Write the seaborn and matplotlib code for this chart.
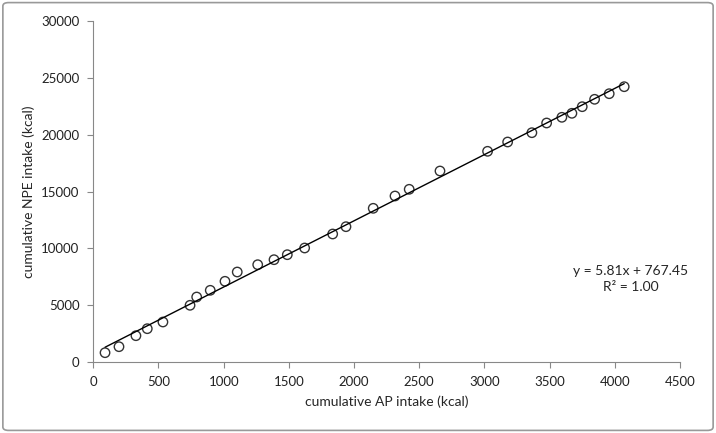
import matplotlib
matplotlib.use('Agg')
import matplotlib.pyplot as plt
from matplotlib.patches import FancyBboxPatch
import seaborn as sns
import pandas as pd

# values
ap_intake = [90, 197, 327, 414, 534, 742, 793, 897, 1010, 1104,
             1261, 1386, 1488, 1621, 1836, 1938, 2147, 2314, 2423, 2659,
             3024, 3178, 3364, 3477, 3594, 3671, 3750, 3845, 3957, 4072]
npe_intake = [794, 1323, 2293, 2910, 3501, 4974, 5705, 6296, 7090, 7910,
              8554, 8995, 9436, 10026, 11261, 11905, 13527, 14612, 15203, 16817,
              18554, 19374, 20194, 21050, 21552, 21905, 22487, 23140, 23633, 24250]
fit_label = 'y = 5.81x + 767.45\nR² = 1.00'

df = pd.DataFrame({'ap': ap_intake, 'npe': npe_intake})

sns.set_style('white')
plt.rcParams['font.family'] = ['Lato', 'DejaVu Sans']

fig = plt.figure(figsize=(7.16, 4.33), dpi=100)
ax = fig.add_axes([93.3 / 716, 1 - 361.7 / 433, (680 - 93.3) / 716, (361.7 - 21.5) / 433])

sns.regplot(x='ap', y='npe', data=df, ci=None, ax=ax, truncate=True,
            marker='o',
            scatter_kws={'s': 46, 'facecolors': 'none', 'edgecolors': 'black', 'linewidths': 1},
            line_kws={'color': 'black', 'lw': 1})

ax.set_xlim(0, 4500)
ax.set_ylim(0, 30000)
ax.set_xticks(range(0, 4501, 500))
ax.set_yticks(range(0, 30001, 5000))
ax.set_xlabel('cumulative AP intake (kcal)', fontsize=10, labelpad=6)
ax.set_ylabel('cumulative NPE intake (kcal)', fontsize=10, labelpad=4)
ax.tick_params(axis='both', labelsize=9.5, length=4, width=0.8, color='#888888',
               labelcolor='#222222', direction='out', bottom=True, left=True, pad=6)
for side in ['top', 'right']:
    ax.spines[side].set_visible(False)
for side in ['left', 'bottom']:
    ax.spines[side].set_color('#888888')
    ax.spines[side].set_linewidth(0.8)

ax.text(4123, 7300, fit_label, ha='center', va='center', fontsize=10, linespacing=1.4)

border = FancyBboxPatch((0.004, 0.006), 0.992, 0.988, boxstyle='round,pad=0,rounding_size=0.008',
                        transform=fig.transFigure, fill=False, edgecolor='#999999', lw=1.2)
fig.patches.append(border)

fig.savefig('out.png', dpi=100)
